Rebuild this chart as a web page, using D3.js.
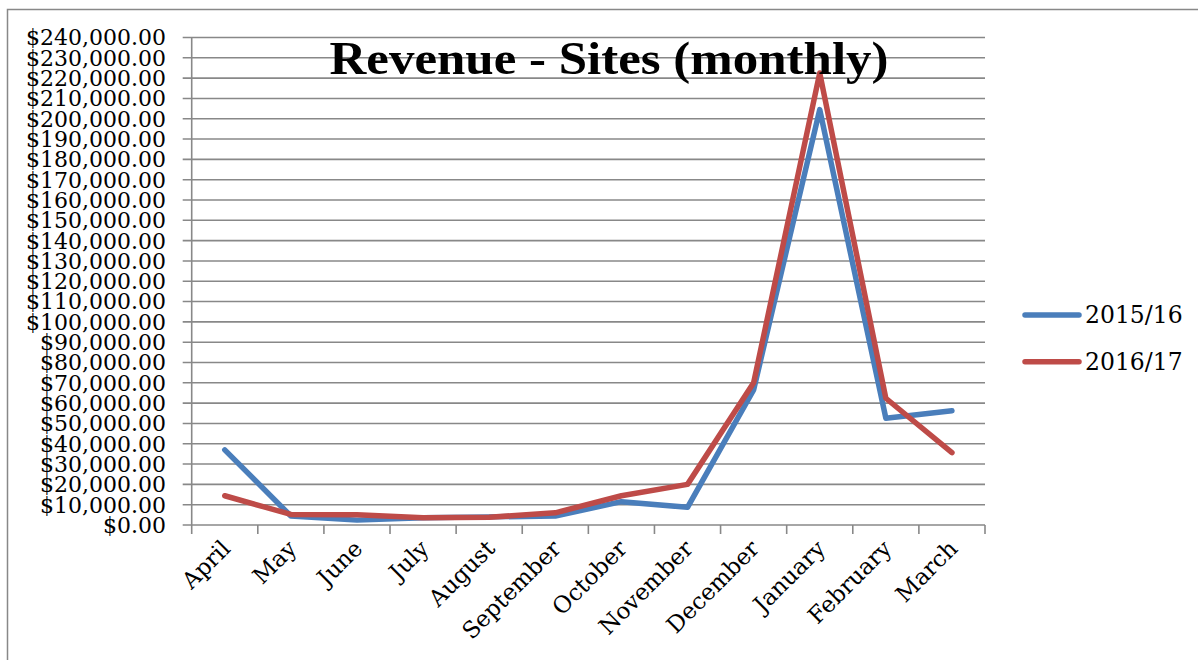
<!DOCTYPE html>
<html><head><meta charset="utf-8">
<script src="https://cdn.jsdelivr.net/npm/d3@7"></script>
<style>body{margin:0;background:#fff}svg{display:block}</style>
</head><body>
<svg id="c" width="1198" height="660"></svg>
<script>
const months = ["April","May","June","July","August","September","October","November","December","January","February","March"];
const series2015 = [37000, 4400, 2400, 3600, 4000, 4400, 11500, 8700, 66500, 204500, 52600, 56200];
const series2016 = [14400, 5200, 5000, 3600, 3800, 6000, 14400, 20000, 70000, 222500, 62400, 35600];
const seriesNames = ["2015/16","2016/17"];
const seriesColors = ["#4a7ebb","#be4b48"];
const yTicks = d3.range(0, 240001, 10000);
const title = "Revenue - Sites (monthly)";

const svg = d3.select("#c");
const L = 191.7, R = 985, T = 37.5, B = 525;
const x = d3.scaleBand().domain(months).range([L, R]);
const y = d3.scaleLinear().domain([0, 240000]).range([B, T]);
const fmt = d3.format("$,.2f");

// outer border
svg.append("rect").attr("x",7.5).attr("y",9.5).attr("width",1300).attr("height",800)
  .attr("fill","none").attr("stroke","#888").attr("stroke-width",1.5);

// gridlines
svg.append("g").selectAll("line").data(yTicks).join("line")
  .attr("x1", L-9).attr("x2", R).attr("y1", d=>y(d)).attr("y2", d=>y(d))
  .attr("stroke","#888").attr("stroke-width",1.6);

// y axis line
svg.append("line").attr("x1",L).attr("x2",L).attr("y1",T).attr("y2",B).attr("stroke","#888").attr("stroke-width",1.6);

// x axis ticks at band boundaries
const bounds = months.map(m=>x(m)).concat([R]);
svg.append("g").selectAll("line").data(bounds).join("line")
  .attr("x1",d=>d).attr("x2",d=>d).attr("y1",B).attr("y2",B+9)
  .attr("stroke","#888").attr("stroke-width",1.6);

// y labels
svg.append("g").selectAll("text").data(yTicks).join("text")
  .attr("x", 166).attr("y", d=>y(d)).attr("dy","0.36em")
  .attr("text-anchor","end")
  .style("font-family","'DejaVu Serif', serif").style("font-size","22px").attr("fill","#000")
  .text(d=>fmt(d));

// x labels
svg.append("g").selectAll("text").data(months).join("text")
  .attr("transform", d=>`translate(${x(d)+x.bandwidth()/2+7},${B+25}) rotate(-45)`)
  .attr("text-anchor","end")
  .style("font-family","'DejaVu Serif', serif").style("font-size","23px").attr("fill","#000")
  .text(d=>d);

// lines
const line = d3.line().x((d,i)=>x(months[i])+x.bandwidth()/2).y(d=>y(d));
[series2015, series2016].forEach((s,k)=>{
  svg.append("path").datum(s).attr("d",line).attr("fill","none")
    .attr("stroke",seriesColors[k]).attr("stroke-width",5.5).attr("stroke-linejoin","round").attr("stroke-linecap","round");
});

// title
svg.append("text").attr("x",609).attr("y",74).attr("text-anchor","middle")
  .attr("textLength",559).attr("lengthAdjust","spacingAndGlyphs")
  .style("font-family","'Liberation Serif', serif").style("font-weight","bold").style("font-size","47px")
  .text(title);

// legend
const lg = svg.append("g");
seriesNames.forEach((n,k)=>{
  const ly = 315 + k*46.7;
  lg.append("line").attr("x1",1025).attr("x2",1079).attr("y1",ly).attr("y2",ly)
    .attr("stroke",seriesColors[k]).attr("stroke-width",5.5).attr("stroke-linecap","round");
  lg.append("text").attr("x",1085).attr("y",ly).attr("dy","0.36em")
    .style("font-family","'DejaVu Serif', serif").style("font-size","23.5px").text(n);
});
</script>
</body></html>
